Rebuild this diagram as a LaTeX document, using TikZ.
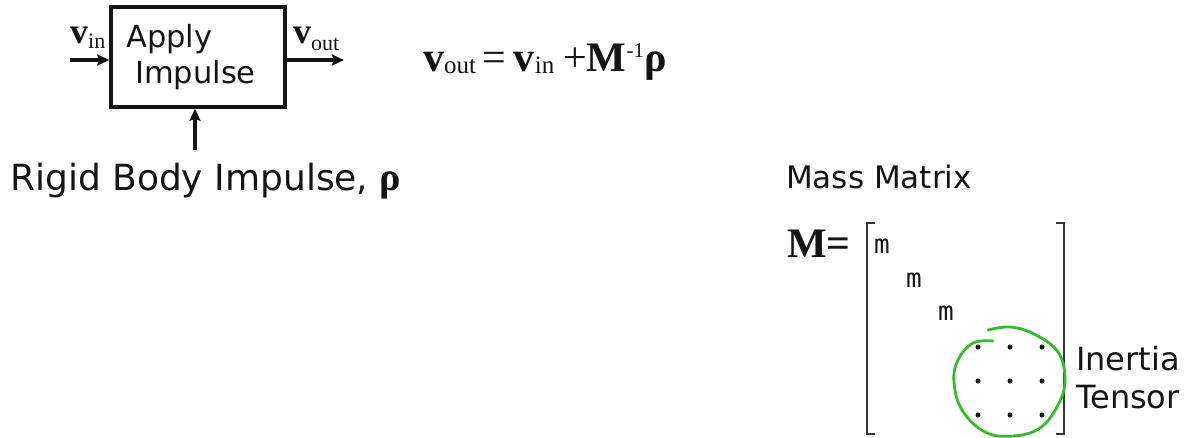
\documentclass[tikz,border=0pt]{standalone}
\usepackage{fontspec}
\setmainfont{DejaVu Sans}
\newfontfamily\tms{Liberation Serif}
\newfontfamily\mono{DejaVu Sans Mono}
\usetikzlibrary{arrows.meta}
\definecolor{ink}{RGB}{20,20,20}
\definecolor{hand}{RGB}{50,190,40}
\begin{document}
\begin{tikzpicture}[x=1pt,y=-1pt,
  txt/.style={anchor=base west,inner sep=0pt,text=ink},
  arr/.style={draw=ink,line width=3.2pt,-{Stealth[length=12pt,width=11pt,inset=2pt]}},
  brk/.style={draw=ink!85,line width=2.4pt},
  dotm/.style={fill=ink,circle,inner sep=0pt,minimum size=5pt}]
\useasboundingbox (0,0) rectangle (1196,437);
% block
\node[draw=ink,line width=3.5pt,minimum width=174pt,minimum height=100pt,inner sep=0pt] (box) at (198,57) {};
\node[txt] (apply) at (126,47) {\fontsize{30.5}{30}\selectfont Apply};
\node[txt] (imp) at (135,83) {\fontsize{30.5}{30}\selectfont Impulse};
\node[txt] (vin) at (70,43) {\tms\fontsize{36}{36}\selectfont\textbf{v}\raisebox{-5pt}{\fontsize{22}{22}\selectfont in}};
\node[txt] (vout) at (293,43) {\tms\fontsize{36}{36}\selectfont\textbf{v}\raisebox{-7pt}{\fontsize{22}{22}\selectfont out}};
\coordinate (inL) at (70,60);
\coordinate (outR) at (344,60);
\coordinate (rb) at (195,150);
\draw[arr] (inL) -- (inL -| box.west);
\draw[arr] (outR -| box.east) -- (outR);
\draw[arr] (rb) -- (rb |- box.south);
\node[txt] (rigid) at (10,190) {\fontsize{36}{36}\selectfont Rigid Body Impulse, {\tms\bfseries\fontsize{40}{40}\selectfont ρ}};
% equation
\node[txt] (eq) at (423,71) {\tms\fontsize{42}{42}\selectfont\textbf{v}\raisebox{-2pt}{\fontsize{25}{25}\selectfont out}\hspace{6pt}=\hspace{8pt}\textbf{v}\raisebox{-2pt}{\fontsize{25}{25}\selectfont in}\hspace{9pt}+\textbf{M}\raisebox{14pt}{\fontsize{21}{21}\selectfont -1}\textbf{ρ}};
% mass matrix
\node[txt] (mm) at (786,188) {\fontsize{31}{31}\selectfont Mass Matrix};
\node[txt] (Meq) at (787,257) {\tms\fontsize{42}{42}\selectfont\textbf{M=}};
\draw[brk] (875,223) -- (867,223) -- (867,434) -- (875,434);
\draw[brk] (1056,223) -- (1064,223) -- (1064,434) -- (1056,434);
\node[txt] (m1) at (874,253) {\mono\fontsize{26}{26}\selectfont m};
\node[txt] (m2) at (906,287) {\mono\fontsize{26}{26}\selectfont m};
\node[txt] (m3) at (938,320) {\mono\fontsize{26}{26}\selectfont m};
\foreach \i/\x in {1/978,2/1010,3/1042}{
  \foreach \j/\y in {1/347,2/381,3/415}{
    \node[dotm] (d\i\j) at (\x,\y) {};
  }
}
\draw[hand,line width=2.8pt,line cap=round] plot[smooth,tension=0.65] coordinates {(993,341) (973,343) (958,360) (954,382) (962,410) (985,432) (1013,436) (1040,428) (1058,405) (1065,380) (1058,352) (1034,334) (1010,327) (988,330)};
\node[txt] (in1) at (1076,370) {\fontsize{32}{32}\selectfont Inertia};
\node[txt] (in2) at (1076,408) {\fontsize{32}{32}\selectfont Tensor};
\end{tikzpicture}
\end{document}
